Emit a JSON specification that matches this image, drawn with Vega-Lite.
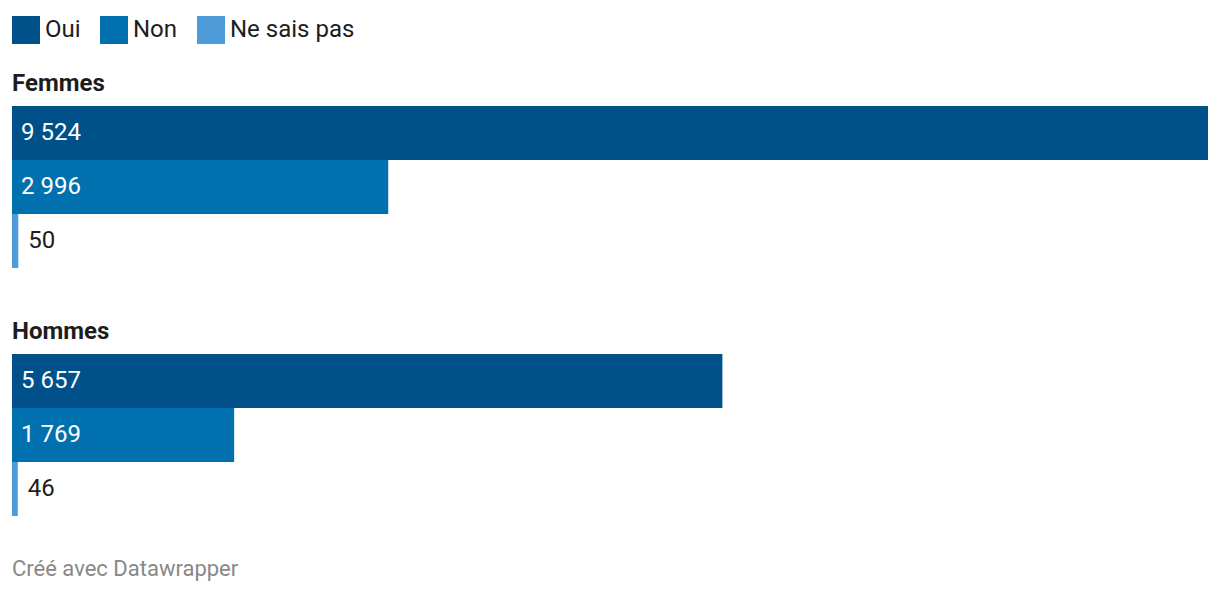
{
  "$schema": "https://vega.github.io/schema/vega-lite/v6.json",
  "background": "white",
  "padding": {"left": 12, "right": 12, "top": 16, "bottom": 2},
  "config": {
    "locale": {"number": {"decimal": ",", "thousands": "\u00a0", "grouping": [3], "currency": ["", "\u00a0€"]}},
    "font": "Roboto",
    "view": {"stroke": null},
    "concat": {"spacing": 52},
    "legend": {
      "orient": "top",
      "direction": "horizontal",
      "symbolType": "square",
      "symbolSize": 784,
      "symbolStrokeWidth": 0,
      "symbolOpacity": 1,
      "labelFontSize": 24,
      "labelColor": "#1d1d1d",
      "labelOffset": 5,
      "columnPadding": 19,
      "offset": 28,
      "padding": 0
    }
  },
  "data": {
    "values": [
      {"groupe": "Femmes", "reponse": "Oui", "valeur": 9524},
      {"groupe": "Femmes", "reponse": "Non", "valeur": 2996},
      {"groupe": "Femmes", "reponse": "Ne sais pas", "valeur": 50},
      {"groupe": "Hommes", "reponse": "Oui", "valeur": 5657},
      {"groupe": "Hommes", "reponse": "Non", "valeur": 1769},
      {"groupe": "Hommes", "reponse": "Ne sais pas", "valeur": 46}
    ]
  },
  "title": {"text": "Créé avec Datawrapper", "orient": "bottom", "anchor": "start", "fontSize": 22, "fontWeight": "normal", "color": "#888888", "offset": 43, "frame": "group"},
  "vconcat": [
    {
      "title": {"text": "Femmes", "anchor": "start", "fontSize": 24, "fontWeight": "bold", "color": "#1d1d1d", "offset": 10},
      "width": 1196,
      "height": 162,
      "transform": [{"filter": "datum.groupe === 'Femmes'"}],
      "encoding": {"y": {"field": "reponse", "type": "nominal", "sort": ["Oui", "Non", "Ne sais pas"], "axis": null, "scale": {"paddingInner": 0, "paddingOuter": 0}}},
      "layer": [
        {"mark": {"type": "bar"}, "encoding": {
          "x": {"field": "valeur", "type": "quantitative", "scale": {"domain": [0, 9524], "nice": false}, "axis": null},
          "color": {"field": "reponse", "type": "nominal", "sort": ["Oui", "Non", "Ne sais pas"], "scale": {"domain": ["Oui", "Non", "Ne sais pas"], "range": ["#00508a", "#0071ae", "#4d9bd8"]}, "legend": {"title": null}}
        }},
        {"transform": [{"filter": "datum.reponse !== 'Ne sais pas'"}], "mark": {"type": "text", "align": "left", "dx": 9, "color": "white", "fontSize": 24}, "encoding": {
          "x": {"datum": 0, "type": "quantitative"},
          "text": {"field": "valeur", "type": "quantitative", "format": ",d"}
        }},
        {"transform": [{"filter": "datum.reponse === 'Ne sais pas'"}], "mark": {"type": "text", "align": "left", "dx": 10, "color": "#1d1d1d", "fontSize": 24}, "encoding": {
          "x": {"field": "valeur", "type": "quantitative"},
          "text": {"field": "valeur", "type": "quantitative", "format": ",d"}
        }}
      ]
    },
    {
      "title": {"text": "Hommes", "anchor": "start", "fontSize": 24, "fontWeight": "bold", "color": "#1d1d1d", "offset": 10},
      "width": 1196,
      "height": 162,
      "transform": [{"filter": "datum.groupe === 'Hommes'"}],
      "encoding": {"y": {"field": "reponse", "type": "nominal", "sort": ["Oui", "Non", "Ne sais pas"], "axis": null, "scale": {"paddingInner": 0, "paddingOuter": 0}}},
      "layer": [
        {"mark": {"type": "bar"}, "encoding": {
          "x": {"field": "valeur", "type": "quantitative", "scale": {"domain": [0, 9524], "nice": false}, "axis": null},
          "color": {"field": "reponse", "type": "nominal", "sort": ["Oui", "Non", "Ne sais pas"], "scale": {"domain": ["Oui", "Non", "Ne sais pas"], "range": ["#00508a", "#0071ae", "#4d9bd8"]}, "legend": {"title": null}}
        }},
        {"transform": [{"filter": "datum.reponse !== 'Ne sais pas'"}], "mark": {"type": "text", "align": "left", "dx": 9, "color": "white", "fontSize": 24}, "encoding": {
          "x": {"datum": 0, "type": "quantitative"},
          "text": {"field": "valeur", "type": "quantitative", "format": ",d"}
        }},
        {"transform": [{"filter": "datum.reponse === 'Ne sais pas'"}], "mark": {"type": "text", "align": "left", "dx": 10, "color": "#1d1d1d", "fontSize": 24}, "encoding": {
          "x": {"field": "valeur", "type": "quantitative"},
          "text": {"field": "valeur", "type": "quantitative", "format": ",d"}
        }}
      ]
    }
  ]
}
